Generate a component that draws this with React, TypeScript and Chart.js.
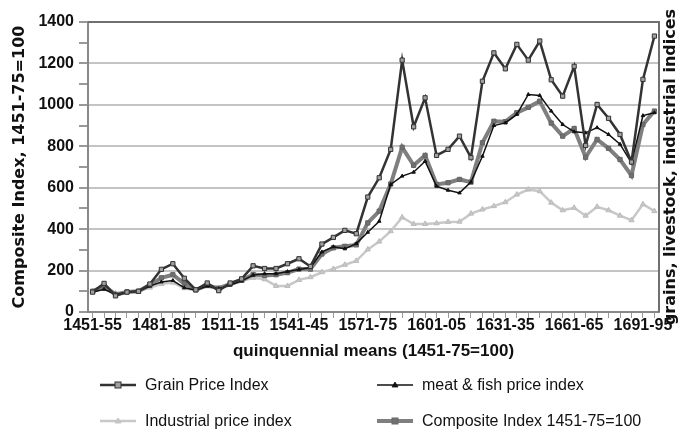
import React, { useEffect, useRef } from 'react';
import { Chart, registerables } from 'chart.js';

Chart.register(...registerables);

const categories = [
  '1451-55', '1456-60', '1461-65', '1466-70', '1471-75', '1476-80', '1481-85', '1486-90', '1491-95', '1496-1500',
  '1501-05', '1506-10', '1511-15', '1516-20', '1521-25', '1526-30', '1531-35', '1536-40', '1541-45', '1546-50',
  '1551-55', '1556-60', '1561-65', '1566-70', '1571-75', '1576-80', '1581-85', '1586-90', '1591-95', '1596-1600',
  '1601-05', '1606-10', '1611-15', '1616-20', '1621-25', '1626-30', '1631-35', '1636-40', '1641-45', '1646-50',
  '1651-55', '1656-60', '1661-65', '1666-70', '1671-75', '1676-80', '1681-85', '1686-90', '1691-95', '1696-1700',
];

const grainPriceIndex = [
  96, 138, 78, 96, 100, 135, 206, 233, 163, 107,
  140, 103, 140, 160, 223, 210, 210, 233, 257, 220,
  328, 360, 394, 378, 555, 648, 785, 1216, 894, 1034,
  756, 785, 849, 745, 1114, 1251, 1174, 1292, 1216, 1308,
  1121, 1042, 1186, 804, 1002, 935, 857, 724, 1123, 1332,
];

const meatFishPriceIndex = [
  95, 110, 85, 97, 100, 125, 145, 152, 117, 105,
  125, 112, 130, 150, 178, 185, 185, 195, 205, 215,
  290, 315, 305, 330, 385, 438, 616, 656, 675, 728,
  607, 588, 575, 627, 752, 900, 913, 954, 1050, 1045,
  970, 905, 870, 865, 890, 857, 810, 720, 948, 962,
];

const industrialPriceIndex = [
  100, 112, 90, 95, 100, 118, 135, 142, 115, 105,
  125, 112, 135, 150, 165, 158, 126, 126, 155, 168,
  192, 208, 228, 247, 302, 340, 390, 457, 425, 425,
  428, 435, 436, 475, 495, 511, 530, 567, 591, 583,
  528, 491, 503, 465, 508, 491, 465, 443, 520, 487,
];

const compositeIndex = [
  100, 125, 85, 97, 100, 130, 165, 180, 137, 107,
  128, 115, 135, 153, 181, 176, 180, 190, 207, 207,
  280, 310, 317, 324, 430, 487, 618, 795, 708, 756,
  616, 624, 640, 627, 817, 921, 919, 962, 988, 1018,
  912, 849, 886, 747, 833, 790, 736, 659, 905, 970,
];

const labelEvery = 6;
const yMin = 0;
const yMax = 1400;
const yStep = 100;
const yLabelStep = 200;

const xTitle = 'quinquennial means (1451-75=100)';
const yTitle = 'Composite Index, 1451-75=100';
const rightTitle = 'grains, livestock, industrial indices';

const seriesNames = [
  'Grain Price Index',
  'meat & fish price index',
  'Industrial price index',
  'Composite Index 1451-75=100',
];

const toPoints = (arr: number[]) => arr.map((v, i) => ({ x: i, y: v }));

const SANS = '"Liberation Sans", Arial, sans-serif';
const DEJAVU = '"DejaVu Sans", sans-serif';

const rightTitlePlugin = {
  id: 'rightTitle',
  afterDraw(chart: any) {
    const { ctx, chartArea } = chart;
    ctx.save();
    ctx.font = 'bold 16px ' + DEJAVU;
    ctx.fillStyle = '#111';
    ctx.textAlign = 'center';
    ctx.textBaseline = 'middle';
    ctx.translate(chartArea.right + 12, (chartArea.top + chartArea.bottom) / 2);
    ctx.rotate(-Math.PI / 2);
    ctx.fillText(rightTitle, 0, 0);
    ctx.restore();
  },
};

const plotBorderPlugin = {
  id: 'plotBorder',
  beforeDatasetsDraw(chart: any) {
    const { ctx, chartArea } = chart;
    ctx.save();
    ctx.strokeStyle = '#707070';
    ctx.lineWidth = 2;
    ctx.beginPath();
    ctx.moveTo(chartArea.left, chartArea.top);
    ctx.lineTo(chartArea.right, chartArea.top);
    ctx.lineTo(chartArea.right, chartArea.bottom);
    ctx.stroke();
    ctx.restore();
  },
};

type LegendSpec = { name: string; color: string; width: number; marker: 'rect' | 'tri'; markerFill: string; markerStroke: string; col: number; row: number };

const legendSpecs: LegendSpec[] = [
  { name: seriesNames[0], color: '#333', width: 2.5, marker: 'rect', markerFill: '#a0a0a0', markerStroke: '#333', col: 0, row: 0 },
  { name: seriesNames[1], color: '#111', width: 1.5, marker: 'tri', markerFill: '#111', markerStroke: '#111', col: 1, row: 0 },
  { name: seriesNames[2], color: '#c8c8c8', width: 2.5, marker: 'tri', markerFill: '#c8c8c8', markerStroke: '#bbb', col: 0, row: 1 },
  { name: seriesNames[3], color: '#7f7f7f', width: 4, marker: 'rect', markerFill: '#707070', markerStroke: '#666', col: 1, row: 1 },
];

const legendColX = [100, 377];
const legendRowY = [385, 421];

function LegendItem({ spec }: { spec: LegendSpec }) {
  const left = legendColX[spec.col];
  const cy = legendRowY[spec.row];
  return (
    <div style={{ position: 'absolute', left, top: cy - 10, height: 20, display: 'flex', alignItems: 'center', whiteSpace: 'nowrap' }}>
      <svg width={36} height={12} style={{ display: 'block' }}>
        <line x1={0} y1={6} x2={36} y2={6} stroke={spec.color} strokeWidth={spec.width} />
        {spec.marker === 'rect' ? (
          <rect x={15} y={3} width={6} height={6} fill={spec.markerFill} stroke={spec.markerStroke} strokeWidth={1} />
        ) : (
          <polygon points="18,3 21,8 15,8" fill={spec.markerFill} stroke={spec.markerStroke} strokeWidth={0.8} />
        )}
      </svg>
      <span style={{ marginLeft: 9, font: '16px ' + SANS, color: '#111' }}>{spec.name}</span>
    </div>
  );
}

export default function App() {
  const canvasRef = useRef<HTMLCanvasElement | null>(null);

  useEffect(() => {
    const canvas = canvasRef.current;
    if (!canvas) return;
    const chart = new Chart(canvas, {
      type: 'line',
      data: {
        datasets: [
          {
            label: seriesNames[0],
            data: toPoints(grainPriceIndex),
            borderColor: '#333',
            borderWidth: 2.5,
            pointStyle: 'rect',
            pointRadius: 3,
            pointBackgroundColor: '#a0a0a0',
            pointBorderColor: '#333',
            pointBorderWidth: 1,
            order: 0,
          },
          {
            label: seriesNames[1],
            data: toPoints(meatFishPriceIndex),
            borderColor: '#111',
            borderWidth: 1.5,
            pointStyle: 'triangle',
            pointRadius: 2,
            pointBackgroundColor: '#111',
            pointBorderColor: '#111',
            pointBorderWidth: 1,
            order: 1,
          },
          {
            label: seriesNames[2],
            data: toPoints(industrialPriceIndex),
            borderColor: '#c8c8c8',
            borderWidth: 2.5,
            pointStyle: 'triangle',
            pointRadius: 3,
            pointBackgroundColor: '#c8c8c8',
            pointBorderColor: '#bbb',
            pointBorderWidth: 1,
            order: 3,
          },
          {
            label: seriesNames[3],
            data: toPoints(compositeIndex),
            borderColor: '#7f7f7f',
            borderWidth: 4,
            pointStyle: 'rect',
            pointRadius: 3,
            pointBackgroundColor: '#707070',
            pointBorderColor: '#666',
            pointBorderWidth: 1,
            order: 2,
          },
        ],
      },
      options: {
        animation: false,
        responsive: false,
        maintainAspectRatio: false,
        layout: { padding: { top: 22, right: 20, bottom: 77, left: 0 } },
        plugins: {
          legend: { display: false },
          tooltip: { enabled: false },
        },
        elements: { line: { tension: 0 } },
        scales: {
          x: {
            type: 'linear',
            min: -0.4,
            max: categories.length - 1 + 0.4,
            afterBuildTicks: (scale: any) => {
              scale.ticks = categories.map((_, i) => ({ value: i }));
            },
            ticks: {
              autoSkip: false,
              maxRotation: 0,
              minRotation: 0,
              padding: 0,
              color: '#111',
              font: { family: SANS, size: 16, weight: 'bold', lineHeight: 1 },
              callback: (v: any) => (Number(v) % labelEvery === 0 ? categories[Number(v)] : ''),
            },
            grid: { drawOnChartArea: false, drawTicks: true, tickLength: 6, color: '#999', lineWidth: 1 },
            border: { display: true, color: '#888', width: 2 },
            title: {
              display: true,
              text: xTitle,
              color: '#111',
              font: { family: SANS, size: 17, weight: 'bold', lineHeight: 1.2 },
              padding: { top: 0, bottom: 2 },
            },
            afterFit: (s: any) => {
              s.height = 52;
              s.paddingLeft = 0;
              s.paddingRight = 0;
            },
          },
          y: {
            min: yMin,
            max: yMax,
            ticks: {
              stepSize: yStep,
              autoSkip: false,
              padding: 5,
              color: '#111',
              font: { family: SANS, size: 16, weight: 'bold' },
              callback: (v: any) => (Number(v) % yLabelStep === 0 ? String(v) : ''),
            },
            grid: {
              color: (ctx: any) =>
                ctx.tick && ctx.tick.value % yLabelStep === 0 && ctx.tick.value > 0 ? '#c4c4c4' : 'rgba(0,0,0,0)',
              tickColor: '#999',
              lineWidth: 2,
              tickLength: 9,
            },
            border: { display: true, color: '#888', width: 2 },
            title: {
              display: true,
              text: yTitle,
              color: '#111',
              font: { family: DEJAVU, size: 16, weight: 'bold', lineHeight: 1.2 },
              padding: { top: 10, bottom: 0 },
            },
            afterFit: (s: any) => {
              s.width = 88;
              s.paddingTop = 0;
              s.paddingBottom = 0;
            },
          },
        },
      } as any,
      plugins: [plotBorderPlugin, rightTitlePlugin],
    });
    return () => chart.destroy();
  }, []);

  return (
    <div style={{ position: 'fixed', left: 0, top: 0, width: 679, height: 441, background: '#fff', overflow: 'hidden' }}>
      <canvas ref={canvasRef} width={679} height={441} style={{ position: 'absolute', left: 0, top: 0, width: 679, height: 441 }} />
      {legendSpecs.map((s) => (
        <LegendItem key={s.name} spec={s} />
      ))}
    </div>
  );
}
